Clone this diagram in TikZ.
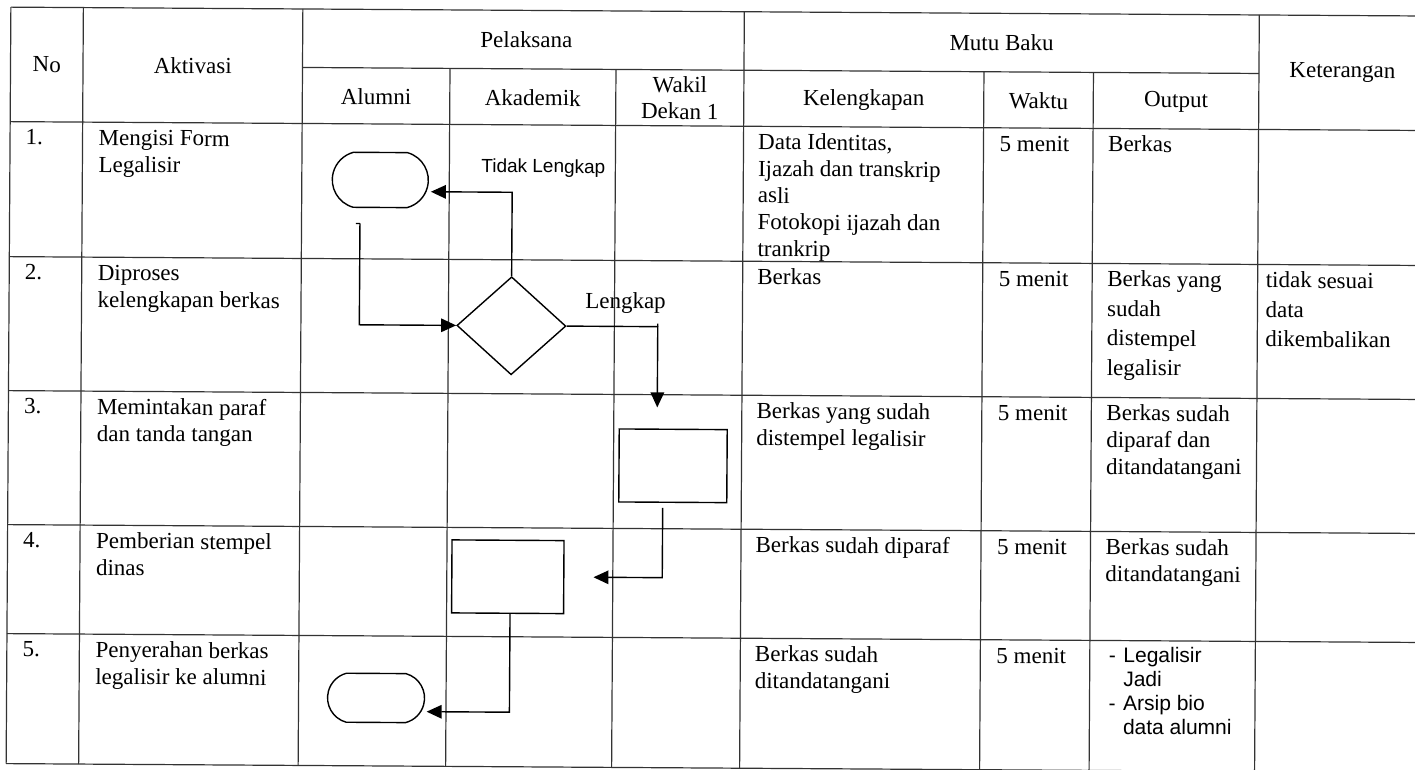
\documentclass[tikz,border=0pt]{standalone}
\usepackage{fontspec}
\setmainfont{Liberation Serif}
\newfontfamily\arialfont{Liberation Sans}
\usetikzlibrary{shapes.geometric,shapes.misc,arrows.meta,calc}
\newcommand{\cellfont}{\fontsize{23}{26.7}\selectfont}
\newcommand{\widefont}{\fontsize{23}{29.5}\selectfont}
\begin{document}
\begin{tikzpicture}[x=1pt,y=-1pt,
  grid/.style={line width=1.2pt, draw=black!80},
  flow/.style={line width=1.4pt, draw=black},
  arr/.style={flow, -{Triangle[length=15pt,width=13.5pt]}},
  term/.style={draw, line width=1.4pt, rounded rectangle, rounded rectangle arc length=150, inner sep=0pt, minimum width=96pt, minimum height=55pt},
  dec/.style={draw, line width=1.4pt, diamond, inner sep=0pt, minimum width=109pt, minimum height=98pt},
  proc/.style={draw, line width=1.4pt, rectangle, inner sep=0pt},
  hd/.style={inner sep=0pt, font=\cellfont, align=center},
  cell/.style={anchor=north west, inner sep=0pt, align=left, font=\cellfont},
  wcell/.style={anchor=north west, inner sep=0pt, align=left, font=\widefont},
  lblsans/.style={inner sep=0pt, font=\arialfont\fontsize{19}{22}\selectfont},
  lblserif/.style={inner sep=0pt, font=\cellfont},
]
\useasboundingbox (0,0) rectangle (1415,770);
\clip (0,0) rectangle (1415,770);
\begin{scope}[rotate around={-0.36:(707,385)}, transform shape]
% ---------- table grid ----------
\draw[grid] (8.5,11.5) -- (1424,11.5);
\draw[grid] (300.5,70) -- (1257,70);
\foreach \yy in {126,261,395,529,638,768}{\draw[grid] (8.5,\yy) -- (1424,\yy);}
\foreach \xx in {8.5,81,300.5,742,1257,1424}{\draw[grid] (\xx,11.5) -- (\xx,768);}
\foreach \xx in {448,614,982,1091.5}{\draw[grid] (\xx,70) -- (\xx,768);}
% ---------- header ----------
\node[hd] (hno)  at (44.75,68.75) {No};
\node[hd] (hakt) at (190.75,68.75) {Aktivasi};
\node[hd] (hpel) at (524.25,41) {Pelaksana};
\node[hd] (halu) at (374.25,99) {Alumni};
\node[hd] (haka) at (531,99) {Akademik};
\node[hd] (hwak) at (678,98) {Wakil\\Dekan 1};
\node[hd] (hmut) at (999.5,41) {Mutu Baku};
\node[hd] (hkel) at (862,99) {Kelengkapan};
\node[hd] (hwkt) at (1036.75,99) {Waktu};
\node[hd] (hout) at (1174.25,99) {Output};
\node[hd] (hket) at (1340.5,68.75) {Keterangan};
% ---------- row 1 ----------
\node[cell] (n1) at (24,130.3) {\strut 1.};
\node[cell] (a1) at (97,130.3) {\strut Mengisi Form\\Legalisir};
\node[cell] (k1) at (756.5,130.3) {\strut Data Identitas,\\Ijazah dan transkrip\\asli\\Fotokopi ijazah dan\\trankrip};
\node[cell] (w1) at (998,130.3) {\strut 5 menit};
\node[cell] (o1) at (1106.5,130.3) {\strut Berkas};
% ---------- row 2 ----------
\node[cell] (n2) at (24,265.3) {\strut 2.};
\node[cell] (a2) at (97,265.3) {\strut Diproses\\kelengkapan berkas};
\node[cell] (k2) at (756.5,265.3) {\strut Berkas};
\node[cell] (w2) at (998,265.3) {\strut 5 menit};
\node[wcell] (o2) at (1106.5,263.4) {\strut Berkas yang\\sudah\\distempel\\legalisir};
\node[wcell] (ket2) at (1265,263.4) {\strut tidak sesuai\\data\\dikembalikan};
% ---------- row 3 ----------
\node[cell] (n3) at (24,399.3) {\strut 3.};
\node[cell] (a3) at (97,399.3) {\strut Memintakan paraf\\dan tanda tangan};
\node[cell] (k3) at (756.5,399.3) {\strut Berkas yang sudah\\distempel legalisir};
\node[cell] (w3) at (998,399.3) {\strut 5 menit};
\node[cell] (o3) at (1106.5,399.3) {\strut Berkas sudah\\diparaf dan\\ditandatangani};
% ---------- row 4 ----------
\node[cell] (n4) at (24,533.3) {\strut 4.};
\node[cell] (a4) at (97,533.3) {\strut Pemberian stempel\\dinas};
\node[cell] (k4) at (756.5,533.3) {\strut Berkas sudah diparaf};
\node[cell] (w4) at (998,533.3) {\strut 5 menit};
\node[cell] (o4) at (1106.5,533.3) {\strut Berkas sudah\\ditandatangani};
% ---------- row 5 ----------
\node[cell] (n5) at (24,642.3) {\strut 5.};
\node[cell] (a5) at (97,642.3) {\strut Penyerahan berkas\\legalisir ke alumni};
\node[cell] (k5) at (756.5,642.3) {\strut Berkas sudah\\ditandatangani};
\node[cell] (w5) at (998,642.3) {\strut 5 menit};
\node[anchor=north west, inner sep=0pt, font=\arialfont\fontsize{21}{24}\selectfont] (o5) at (1110.5,642.5)
  {\begin{tabular}{@{}l@{\hspace{7.5pt}}l@{}}-&Legalisir\\&Jadi\\-&Arsip bio\\&data alumni\end{tabular}};
% ---------- flowchart ----------
\node[term] (t1) at (379,182) {};
\node[dec] (dia) at (511,327) {};
\node[proc, minimum width=108pt, minimum height=73pt] (wd) at (673.5,466) {};
\node[proc, minimum width=112pt, minimum height=73pt] (ak) at (509,578) {};
\node[term, minimum width=97pt, minimum height=49pt] (t2) at (378,700) {};
% Tidak Lengkap
\draw[arr] (dia.north) |- ($(t1.east)+(2,11.5)$);
\node[lblsans] (ltl) at (542,169) {Tidak Lengkap};
% from terminal 1 to decision
\coordinate (s2) at ($(t1.south)+(-20,15.5)$);
\draw[flow] ($(s2)+(-4,0)$) -- (s2);
\draw[arr] (s2) |- (dia.west);
% Lengkap
\coordinate (e3) at ($(wd.north)+(-16,-21)$);
\draw[arr] (dia.east) -| (e3);
\draw[flow] (dia.east -| e3) -- ++(0,-3);
\node[lblserif] (llk) at (625,303.5) {Lengkap};
% wakil dekan -> akademik
\draw[arr] ($(wd.south)+(-10,5)$) |- ($(ak.east)+(29,0)$);
% akademik -> alumni
\draw[arr] ($(ak.south)+(2.5,0)$) |- ($(t2.east)+(1.5,13.5)$);
\end{scope}
\end{tikzpicture}
\end{document}
